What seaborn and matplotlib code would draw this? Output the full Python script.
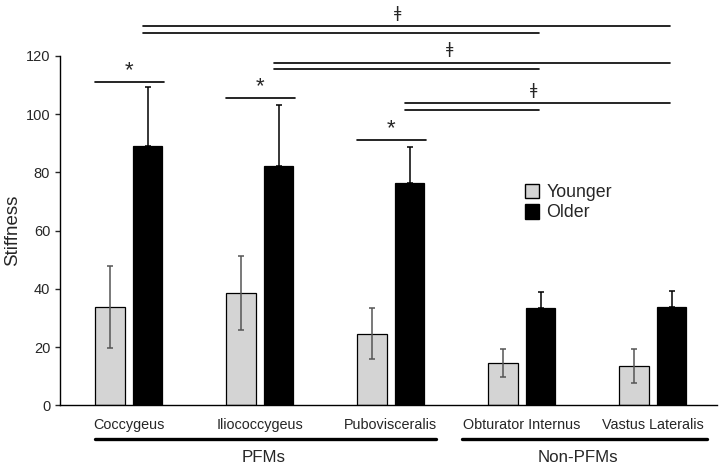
import matplotlib
matplotlib.use("Agg")
import matplotlib.pyplot as plt
import matplotlib.patches as mpatches
import seaborn as sns
import pandas as pd

# Values
muscles = ["Coccygeus", "Iliococcygeus", "Pubovisceralis", "Obturator Internus", "Vastus Lateralis"]
younger = [33.8, 38.5, 24.6, 14.4, 13.6]
younger_err = [14.0, 12.8, 8.8, 4.8, 5.8]
older = [89.1, 82.2, 76.3, 33.4, 33.7]
older_err = [20.3, 21.1, 12.3, 5.4, 5.7]

# significance annotations
star_heights = [111.0, 105.5, 91.2]          # younger vs older, first three muscles
cross_from = [0, 1, 2]                        # PFMs compared with the non-PFMs
cross_upper = [130.3, 117.7, 103.9]           # line to Vastus Lateralis
cross_lower = [127.9, 115.4, 101.3]           # line to Obturator Internus
cross_mark_x = [2.05, 2.45, 3.09]

df = pd.DataFrame({
    "muscle": muscles * 2,
    "value": younger + older,
    "group": ["Younger"] * len(muscles) + ["Older"] * len(muscles),
})

sns.set_style("white")
plt.rcParams["font.family"] = ["Liberation Sans", "DejaVu Sans"]

fig = plt.figure(figsize=(7.22, 4.69), dpi=100)
ax = fig.add_axes([0.0831, 0.1358, 0.91, 0.7448])

colors = {"Younger": "#d4d4d4", "Older": "#000000"}
sns.barplot(data=df, x="muscle", y="value", hue="group", palette=colors,
            errorbar=None, width=0.572, gap=0.217, edgecolor="black",
            linewidth=0.9, ax=ax, legend=False)

y_pos = [b.get_x() + b.get_width() / 2 for b in ax.containers[0]]
o_pos = [b.get_x() + b.get_width() / 2 for b in ax.containers[1]]

ax.errorbar(y_pos, younger, yerr=younger_err, fmt="none", ecolor="#555555",
            elinewidth=1.1, capsize=2.5, capthick=1.1, zorder=3)
ax.errorbar(o_pos, older, yerr=[[0] * len(older), older_err], fmt="none",
            ecolor="black", elinewidth=1.1, capsize=2.5, capthick=1.1, zorder=3)

ax.set_xlim(-0.525, 4.49)
ax.set_ylim(0, 120)
ax.set_yticks([0, 20, 40, 60, 80, 100, 120])
ax.tick_params(axis="y", direction="out", length=3.6, width=1, labelsize=10.5, pad=3.5, left=True)
ax.tick_params(axis="x", length=0, labelsize=10.4, pad=9)
ax.set_xlabel("")
ax.set_ylabel("Stiffness", fontsize=13.5, labelpad=3)
for s in ["top", "right"]:
    ax.spines[s].set_visible(False)
for s in ["left", "bottom"]:
    ax.spines[s].set_color("black")
    ax.spines[s].set_linewidth(1)

# stars over the first three muscles
for i, h in enumerate(star_heights):
    ax.plot([i - 0.26, i + 0.27], [h, h], color="black", lw=1.2, clip_on=False)
    ax.text(i, h + 0.2, "*", ha="center", va="bottom", fontsize=16)

# double lines with the click mark
for i, up, lo, mx in zip(cross_from, cross_upper, cross_lower, cross_mark_x):
    x0 = o_pos[i] - 0.035
    ax.plot([x0, o_pos[4] - 0.01], [up, up], color="black", lw=1.2, clip_on=False)
    ax.plot([x0, o_pos[3] - 0.015], [lo, lo], color="black", lw=1.2, clip_on=False)
    ax.text(mx, up + 4.4, "ǂ", ha="center", va="center", fontsize=11.5,
            family="DejaVu Sans", clip_on=False)

# group brackets under the axis
tr = ax.get_xaxis_transform()
ax.plot([-0.258, 2.347], [-0.0965, -0.0965], color="black", lw=2.4, transform=tr, clip_on=False)
ax.plot([2.54, 4.41], [-0.0965, -0.0965], color="black", lw=2.4, transform=tr, clip_on=False)
ax.text(1.03, -0.15, "PFMs", transform=tr, ha="center", va="center", fontsize=12.2)
ax.text(3.43, -0.15, "Non-PFMs", transform=tr, ha="center", va="center", fontsize=12.2)

handles = [mpatches.Patch(facecolor=colors["Younger"], edgecolor="black", label="Younger"),
           mpatches.Patch(facecolor=colors["Older"], edgecolor="black", label="Older")]
ax.legend(handles=handles, loc="upper left", bbox_to_anchor=(0.697, 0.655), frameon=False,
          fontsize=12.8, handlelength=0.8, handleheight=0.9, handletextpad=0.4,
          labelspacing=0.15, borderaxespad=0)

fig.savefig("out.png", dpi=100)
